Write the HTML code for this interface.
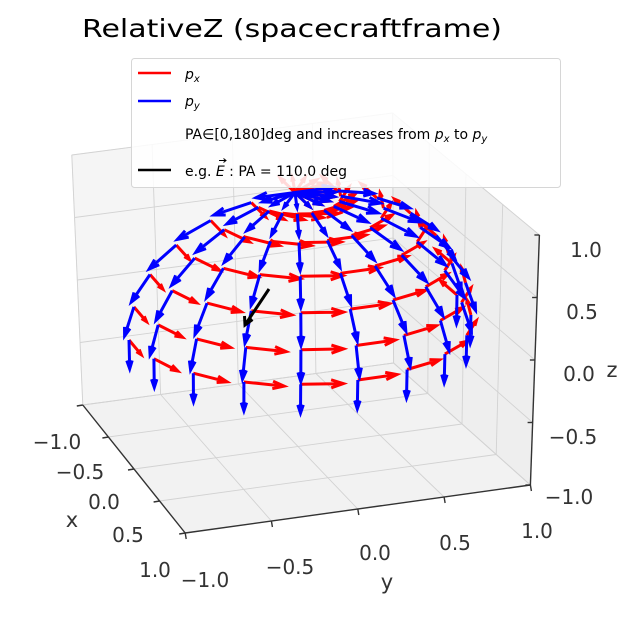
<!DOCTYPE html>
<html><head><meta charset="utf-8">
<style>
html,body{margin:0;padding:0;background:#fff;}
svg{display:block;font-family:"DejaVu Sans","Liberation Sans",sans-serif;}
</style></head>
<body>
<svg id="s" width="620" height="619" viewBox="0 0 620 619" xmlns="http://www.w3.org/2000/svg">
<rect width="620" height="619" fill="#fff"/>
<g id="panes"></g>
<g id="grid" stroke="#d2d2d2" stroke-width="0.9" fill="none"></g>
<g id="axes" stroke="#333" stroke-width="1.4" fill="none"></g>
<g id="arrows" fill="none" stroke-width="3" stroke-linecap="butt" stroke-linejoin="miter"></g>
<g fill="#333" font-size="20" text-anchor="middle">
<text x="57" y="449">−1.0</text>
<text x="80" y="479">−0.5</text>
<text x="104" y="509">0.0</text>
<text x="128" y="542">0.5</text>
<text x="155" y="577">1.0</text>
<text x="72" y="527" font-size="21">x</text>
<text x="205" y="587">−1.0</text>
<text x="290" y="574">−0.5</text>
<text x="375" y="560">0.0</text>
<text x="455" y="550">0.5</text>
<text x="537" y="538">1.0</text>
<text x="387" y="589" font-size="21">y</text>
<text x="586" y="257">1.0</text>
<text x="582" y="319">0.5</text>
<text x="579" y="381">0.0</text>
<text x="573" y="444">−0.5</text>
<text x="569" y="504">−1.0</text>
<text x="612" y="377" font-size="21">z</text>
</g>
<text x="292" y="37" font-size="25" text-anchor="middle" fill="#000" textLength="420" lengthAdjust="spacingAndGlyphs">RelativeZ (spacecraftframe)</text>
<g>
<rect x="131.5" y="58.5" width="429" height="129" rx="3" fill="#fff" fill-opacity="0.85" stroke="#d6d6d6" stroke-width="1"/>
<line x1="138" y1="73" x2="171" y2="73" stroke="#ff0000" stroke-width="2.6"/>
<line x1="138" y1="101" x2="171" y2="101" stroke="#0000ff" stroke-width="2.6"/>
<line x1="138" y1="170" x2="171" y2="170" stroke="#000" stroke-width="2.6"/>
<g font-size="14" fill="#000">
<text x="185" y="79" font-style="italic">p<tspan font-size="10" dy="3">x</tspan></text>
<text x="185" y="106" font-style="italic">p<tspan font-size="10" dy="3">y</tspan></text>
<text x="185" y="139">PA∈[0,180]deg and increases from <tspan font-style="italic">p</tspan><tspan font-size="10" dy="3" font-style="italic">x</tspan><tspan dy="-3"> to </tspan><tspan font-style="italic">p</tspan><tspan font-size="10" dy="3" font-style="italic">y</tspan></text>
<text x="185" y="176">e.g. <tspan font-style="italic">E</tspan> : PA = 110.0 deg</text>
</g>
<path d="M219 160.5L226 160.5M223.5 158.5L226 160.5L223.5 162.5" stroke="#000" stroke-width="1" fill="none"/>
</g>
</svg>
<script>
(function(){
var NS="http://www.w3.org/2000/svg";
function P(x,y,z){
  var px=298+59.75*x+164*y+8.6*x*y+(2.5*(x+y)-0.5)*(z+1);
  var py=446.5+62.5*x-22.5*y-1.5*x*y-125*(z+1);
  return [px,py];
}
function el(tag,attrs,parent){var e=document.createElementNS(NS,tag);for(var k in attrs)e.setAttribute(k,attrs[k]);parent.appendChild(e);return e;}
function poly(pts,fill,parent){el("polygon",{points:pts.map(function(p){return p[0].toFixed(1)+","+p[1].toFixed(1)}).join(" "),fill:fill,stroke:"#ececec","stroke-width":"1"},parent);}
var panes=document.getElementById("panes");
poly([P(-1,-1,-1),P(-1,1,-1),P(-1,1,1),P(-1,-1,1)],"#f5f5f5",panes);
poly([P(-1,1,-1),P(1,1,-1),P(1,1,1),P(-1,1,1)],"#eeeeee",panes);
poly([P(-1,-1,-1),P(1,-1,-1),P(1,1,-1),P(-1,1,-1)],"#f2f2f2",panes);
var g=document.getElementById("grid");
function L(a,b,parent){return el("line",{x1:a[0].toFixed(1),y1:a[1].toFixed(1),x2:b[0].toFixed(1),y2:b[1].toFixed(1)},parent);}
var t=[-1,-0.5,0,0.5,1];
t.forEach(function(v){
  L(P(-1,v,-1),P(-1,v,1),g); L(P(-1,-1,v),P(-1,1,v),g);
  L(P(v,1,-1),P(v,1,1),g); L(P(-1,1,v),P(1,1,v),g);
  L(P(v,-1,-1),P(v,1,-1),g); L(P(-1,v,-1),P(1,v,-1),g);
});
var ax=document.getElementById("axes");
L(P(-1,-1,-1),P(1,-1,-1),ax);
L(P(1,-1,-1),P(1,1,-1),ax);
L(P(1,1,-1),P(1,1,1),ax);
t.forEach(function(v){
  var a=P(v,-1,-1); L(a,[a[0]-6,a[1]+1],ax);
  var b=P(1,v,-1); L(b,[b[0]+1,b[1]+6],ax);
  var c=P(1,1,v); L(c,[c[0]-5,c[1]],ax);
});
var ag=document.getElementById("arrows");
var Ln=0.23;
function Q(x,y,z){var p=P(x,y,z);p[0]-=5*Math.max(0,y)+2;p[1]-=4;return p;}
function arrow(p,d,col){
  var a=Q(p[0],p[1],p[2]), b=Q(p[0]+Ln*d[0],p[1]+Ln*d[1],p[2]+Ln*d[2]);
  var dx=b[0]-a[0],dy=b[1]-a[1],len=Math.sqrt(dx*dx+dy*dy);
  if(len<0.5)return;
  var ux=dx/len,uy=dy/len,h=0.3*len,ang=0.32;
  var c=Math.cos(ang),s=Math.sin(ang);
  var h1=[b[0]-h*(ux*c-uy*s),b[1]-h*(uy*c+ux*s)];
  var h2=[b[0]-h*(ux*c+uy*s),b[1]-h*(uy*c-ux*s)];
  el("path",{d:"M"+a[0].toFixed(1)+" "+a[1].toFixed(1)+"L"+b[0].toFixed(1)+" "+b[1].toFixed(1)+"M"+h1[0].toFixed(1)+" "+h1[1].toFixed(1)+"L"+b[0].toFixed(1)+" "+b[1].toFixed(1)+"L"+h2[0].toFixed(1)+" "+h2[1].toFixed(1),stroke:col},ag);
}
var pts=[];
for(var th=0;th<=90;th+=15){for(var ph=-90;ph<=90;ph+=18){pts.push([th*Math.PI/180,ph*Math.PI/180]);}}
pts.forEach(function(q){var th=q[0],ph=q[1];
  arrow([Math.sin(th)*Math.cos(ph),Math.sin(th)*Math.sin(ph),Math.cos(th)],[-Math.sin(ph),Math.cos(ph),0],"#ff0000");});
pts.forEach(function(q){var th=q[0],ph=q[1];
  arrow([Math.sin(th)*Math.cos(ph),Math.sin(th)*Math.sin(ph),Math.cos(th)],[Math.cos(th)*Math.cos(ph),Math.cos(th)*Math.sin(ph),-Math.sin(th)],"#0000ff");});
el("path",{d:"M269 289L245 325M244.5 316L245 325L252.5 319.5",stroke:"#000"},ag);
})();
</script>
</body></html>
